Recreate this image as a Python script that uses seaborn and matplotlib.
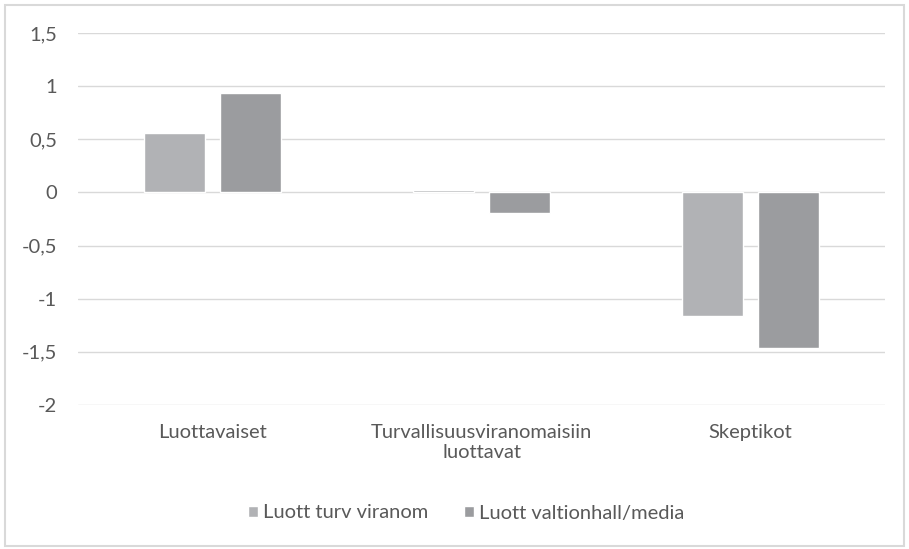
import matplotlib
matplotlib.use("Agg")
import matplotlib.pyplot as plt
import seaborn as sns
import pandas as pd
from matplotlib.patches import Rectangle

categories = ["Luottavaiset", "Turvallisuusviranomaisiin\nluottavat", "Skeptikot"]
series_names = ["Luott turv viranom", "Luott valtionhall/media"]
s1_values = [0.56, 0.02, -1.16]
s2_values = [0.94, -0.19, -1.46]
yticks = [1.5, 1, 0.5, 0, -0.5, -1, -1.5, -2]
ytick_labels = ["1,5", "1", "0,5", "0", "-0,5", "-1", "-1,5", "-2"]
colors = ["#b1b2b5", "#9b9c9f"]

df = pd.DataFrame({
    "cat": categories * 2,
    "series": [series_names[0]] * 3 + [series_names[1]] * 3,
    "value": s1_values + s2_values,
})

sns.set_theme(style="white")
plt.rcParams["font.family"] = ["Lato", "DejaVu Sans"]

fig = plt.figure(figsize=(9.09, 5.49), dpi=100)
ax = fig.add_axes([78/909, 1-405/549, (885-78)/909, (405-33)/549])

sns.barplot(data=df, x="cat", y="value", hue="series", palette=colors,
            width=0.565, gap=0.21, ax=ax, legend=True, saturation=1)

ax.set_ylim(-2, 1.5)
ax.set_xlim(-0.5, 2.5)
ax.set_yticks(yticks)
ax.set_yticklabels(ytick_labels)
ax.grid(axis="y", color="#d9d9d9", linewidth=1)
ax.set_axisbelow(True)
for s in ax.spines.values():
    s.set_visible(False)
ax.set_xlabel("")
ax.set_ylabel("")
ax.tick_params(axis="y", length=0, pad=15, labelsize=14.5, labelcolor="#595959")
ax.tick_params(axis="x", length=0, pad=14, labelsize=14.5, labelcolor="#595959")
for lbl in ax.get_xticklabels():
    lbl.set_linespacing(1.2)

handles, labels = ax.get_legend_handles_labels()
ax.get_legend().remove()
leg = fig.legend(handles, labels, loc="center", bbox_to_anchor=(466/909, 1-513/549),
                 ncol=2, frameon=False, fontsize=14.5, handlelength=0.5, handleheight=0.5,
                 handletextpad=0.25, columnspacing=1.8, labelcolor="#595959")

fig.patches.append(Rectangle((5/909, 3/549), 899/909, 541/549, transform=fig.transFigure,
                             fill=False, edgecolor="#d9d9d9", linewidth=1.5))

fig.savefig("out.png", dpi=100)
